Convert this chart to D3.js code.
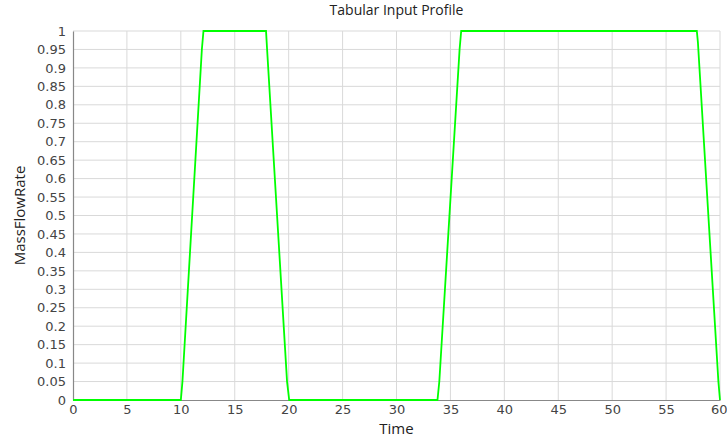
<!DOCTYPE html>
<html><head><meta charset="utf-8">
<script src="https://cdn.jsdelivr.net/npm/d3@7"></script>
<style>body{margin:0;background:#fff;}svg{display:block;}</style>
</head><body>
<script>
const times  = [0, 10, 10.15, 11.95, 12.1, 17.9, 18.0, 19.85, 20.05, 33.8, 33.97, 35.85, 36.0, 57.85, 57.95, 59.85, 60];
const values = [0, 0, 0.05, 0.95, 1, 1, 0.95, 0.05, 0, 0, 0.05, 0.95, 1, 1, 0.97, 0.05, 0];
const xTicks = [0,5,10,15,20,25,30,35,40,45,50,55,60];
const yTicks = d3.range(0, 21).map(i => +(i*0.05).toFixed(2));
const title = "Tabular Input Profile", xLabel = "Time", yLabel = "MassFlowRate";

const W = 727, H = 439;
const m = {left: 73, right: 7, top: 31, bottom: 39};
const svg = d3.select("body").append("svg").attr("width", W).attr("height", H);
const x = d3.scaleLinear().domain([0,60]).range([m.left, W - m.right]);
const y = d3.scaleLinear().domain([0,1]).range([H - m.bottom, m.top]);
const font = "DejaVu Sans, sans-serif";

// grid
svg.append("g").selectAll("line").data(xTicks.slice(1)).join("line")
  .attr("x1", d => x(d)).attr("x2", d => x(d)).attr("y1", y(0)).attr("y2", y(1))
  .attr("stroke", "#d9d9d9").attr("stroke-width", 1);
svg.append("g").selectAll("line").data(yTicks.slice(1)).join("line")
  .attr("x1", x(0)).attr("x2", x(60)).attr("y1", d => y(d)).attr("y2", d => y(d))
  .attr("stroke", "#d9d9d9").attr("stroke-width", 1);

// axes
const xa = svg.append("g").attr("transform", `translate(0,${y(0)})`)
  .call(d3.axisBottom(x).tickValues(xTicks).tickSize(0).tickPadding(5).tickFormat(d3.format("d")));
const ya = svg.append("g").attr("transform", `translate(${x(0)},0)`)
  .call(d3.axisLeft(y).tickValues(yTicks).tickSize(0).tickPadding(7).tickFormat(d => String(d)));
[xa, ya].forEach(a => {
  a.select(".domain").attr("stroke", "#888").attr("stroke-width", 1.2);
  a.selectAll("text").attr("font-family", font).attr("font-size", 13).attr("fill", "#444");
});
xa.selectAll(".tick text").filter(d => d === 60).attr("text-anchor", "end").attr("dx", 7);

// line
svg.append("path").datum(times.map((t,i) => [t, values[i]]))
  .attr("d", d3.line().x(d => x(d[0])).y(d => y(d[1])))
  .attr("fill", "none").attr("stroke", "#00ff00").attr("stroke-width", 1.8);

// labels
svg.append("text").attr("x", (x(0)+x(60))/2).attr("y", 15).attr("text-anchor", "middle")
  .attr("font-family", "Open Sans, sans-serif").attr("font-size", 14).attr("fill", "#222").text(title);
svg.append("text").attr("x", (x(0)+x(60))/2).attr("y", 434).attr("text-anchor", "middle")
  .attr("font-family", "Open Sans, sans-serif").attr("font-size", 15).attr("fill", "#222").text(xLabel);
svg.append("text").attr("transform", `translate(25,${(y(0)+y(1))/2}) rotate(-90)`).attr("text-anchor", "middle")
  .attr("font-family", "Open Sans, sans-serif").attr("font-size", 15).attr("fill", "#222").text(yLabel);
</script>
</body></html>
